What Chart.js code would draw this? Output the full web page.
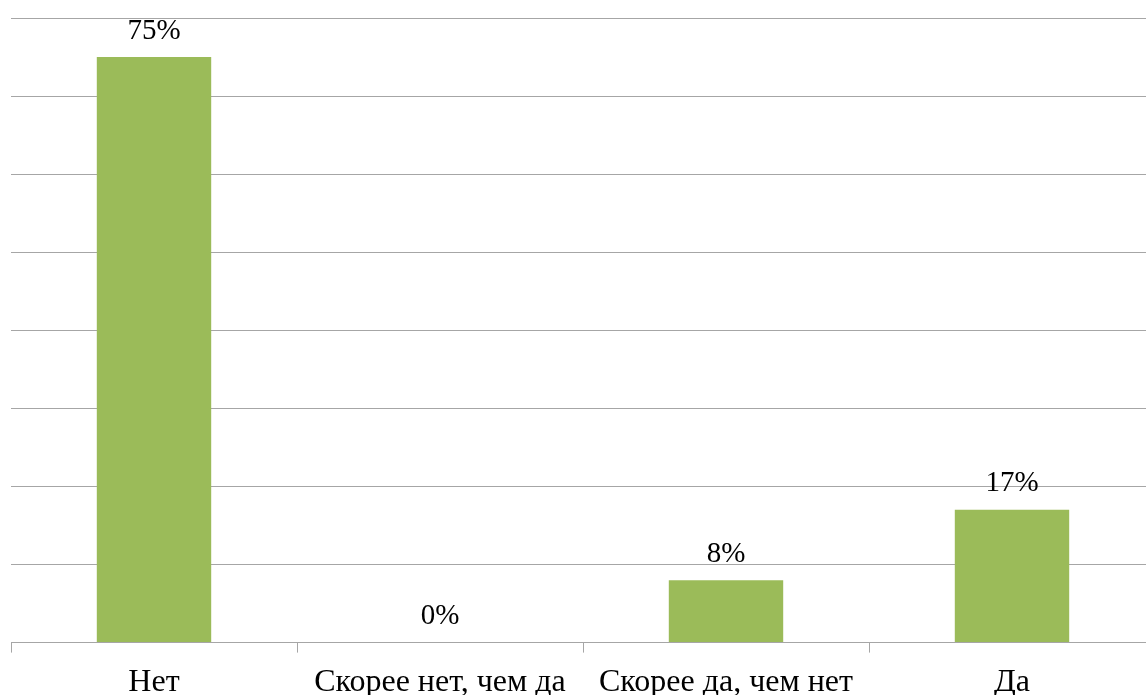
<!DOCTYPE html>
<html>
<head>
<meta charset="utf-8">
<script src="https://cdn.jsdelivr.net/npm/chart.js@4"></script>
<style>
html,body{margin:0;padding:0;background:#fff;overflow:hidden;}
#wrap{position:relative;width:1160px;height:713px;}
</style>
</head>
<body>
<div id="wrap"><canvas id="c"></canvas></div>
<script>
const categories = ['Нет', 'Скорее нет, чем да', 'Скорее да, чем нет', 'Да'];
const values = [75, 0, 8, 17];
const valueLabels = ['75%', '0%', '8%', '17%'];
const yMin = 0, yMax = 80, yStep = 10;

const labelPlugin = {
  id: 'valueLabels',
  afterDatasetsDraw(chart) {
    const ctx = chart.ctx;
    const meta = chart.getDatasetMeta(0);
    ctx.save();
    ctx.font = '29px "Liberation Serif", "Times New Roman", serif';
    ctx.fillStyle = '#000';
    ctx.textAlign = 'center';
    ctx.textBaseline = 'middle';
    meta.data.forEach((bar, i) => {
      ctx.fillText(valueLabels[i], bar.x, bar.y - 26);
    });
    ctx.restore();
  }
};

new Chart(document.getElementById('c'), {
  type: 'bar',
  data: {
    labels: categories,
    datasets: [{
      data: values,
      backgroundColor: '#9BBB59',
      borderWidth: 0,
      barPercentage: 0.8,
      categoryPercentage: 0.5
    }]
  },
  options: {
    responsive: true,
    maintainAspectRatio: false,
    animation: false,
    layout: { padding: { left: 11, right: 5, top: 18, bottom: 0 } },
    plugins: { legend: { display: false }, tooltip: { enabled: false } },
    scales: {
      x: {
        grid: { display: true, drawOnChartArea: false, drawTicks: true, tickLength: 10, color: '#a6a6a6', lineWidth: 1 },
        border: { display: true, color: '#a6a6a6', width: 1 },
        ticks: { color: '#000', font: { family: '"Liberation Serif", "Times New Roman", serif', size: 32 }, padding: 11, maxRotation: 0, autoSkip: false }
      },
      y: {
        min: yMin, max: yMax,
        ticks: { display: false, stepSize: yStep },
        grid: { color: '#a6a6a6', lineWidth: 1, drawTicks: false },
        border: { display: false }
      }
    }
  },
  plugins: [labelPlugin]
});
</script>
</body>
</html>
